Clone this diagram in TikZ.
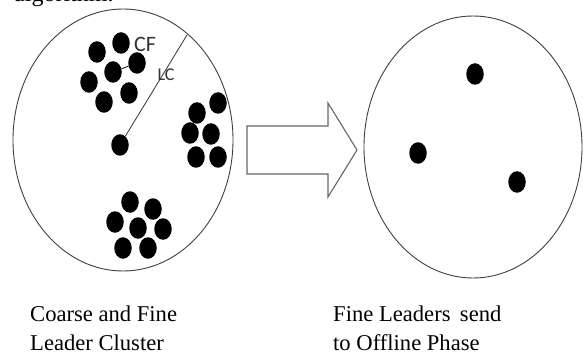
\documentclass[tikz,border=0pt]{standalone}
\usepackage{fontspec}
\setmainfont{Liberation Serif}
\newfontfamily\calfont{Carlito}
\usetikzlibrary{shapes.geometric}

\begin{document}
\begin{tikzpicture}[x=1pt,y=-1pt,
    dot/.style={ellipse, fill=black, inner sep=0pt, minimum width=17.5pt, minimum height=21.5pt},
    bigcircle/.style={ellipse, draw=black!75, line width=0.9pt, inner sep=0pt, minimum width=220pt, minimum height=262pt},
    caption/.style={align=left, anchor=north west, inner sep=0pt, font=\fontsize{22.6}{29}\selectfont}]
    % --- 1. 畫布與上方殘字 ---
    \useasboundingbox (0,0) rectangle (583,358);
    \clip (0,0) rectangle (583,358);
    \fill[white] (0,0) rectangle (583,358);
    \node[anchor=base west, inner sep=0pt, font=\fontsize{24}{29}\selectfont] (algo) at (14,1.5) {algorithm.};

    % --- 2. 兩個大圓 ---
    \node[bigcircle] (coarse) at (123,140) {};
    \node[bigcircle, minimum width=218pt] (fine) at (473,147) {};

    % --- 3. 左圓: CF 群, 右群, 下群 ---
    \foreach \x/\y [count=\i] in {97/52, 121/43, 137/63, 113/72, 89/82, 129/93, 104/102}
        \node[dot] (cf\i) at (\x,\y) {};
    \draw[line width=0.8pt] (cf4) -- (cf3);
    \foreach \x/\y [count=\i] in {197/113, 218/103, 190/133, 211/134, 196/157, 218/157}
        \node[dot] (ra\i) at (\x,\y) {};
    \foreach \x/\y [count=\i] in {130/202, 153/209, 115/222, 138/228, 163/229, 123/248, 148/248}
        \node[dot] (bt\i) at (\x,\y) {};

    % --- 4. 中心點與半徑 LC ---
    \node[dot] (ctr) at (120,145) {};
    \coordinate (lcend) at (187,35);
    \draw[line width=0.8pt, black!80] (ctr) -- (lcend);
    \node[font=\calfont\fontsize{22}{22}\selectfont, text=black!80, inner sep=0pt] (cf) at (145,44) {CF};
    \node[font=\calfont\fontsize{18}{18}\selectfont, text=black!80, inner sep=0pt] (lc) at (166,75) {LC};

    % --- 5. 空心箭頭 ---
    \draw[line width=1.1pt, black!60] (247,126) -- (328,126) -- (328,103) -- (357,150)
        -- (328,197) -- (328,174) -- (247,174) -- cycle;

    % --- 6. 右圓: 三個 fine leaders ---
    \node[dot] (fl1) at (475,74) {};
    \node[dot] (fl2) at (418,153) {};
    \node[dot] (fl3) at (517,182) {};

    % --- 7. 下方說明 ---
    \node[caption] (capl) at (30,306) {Coarse and Fine\\Leader Cluster};
    \node[caption] (capr) at (333,306) {Fine Leaders\ \,send\\to Offline Phase};
\end{tikzpicture}
\end{document}
